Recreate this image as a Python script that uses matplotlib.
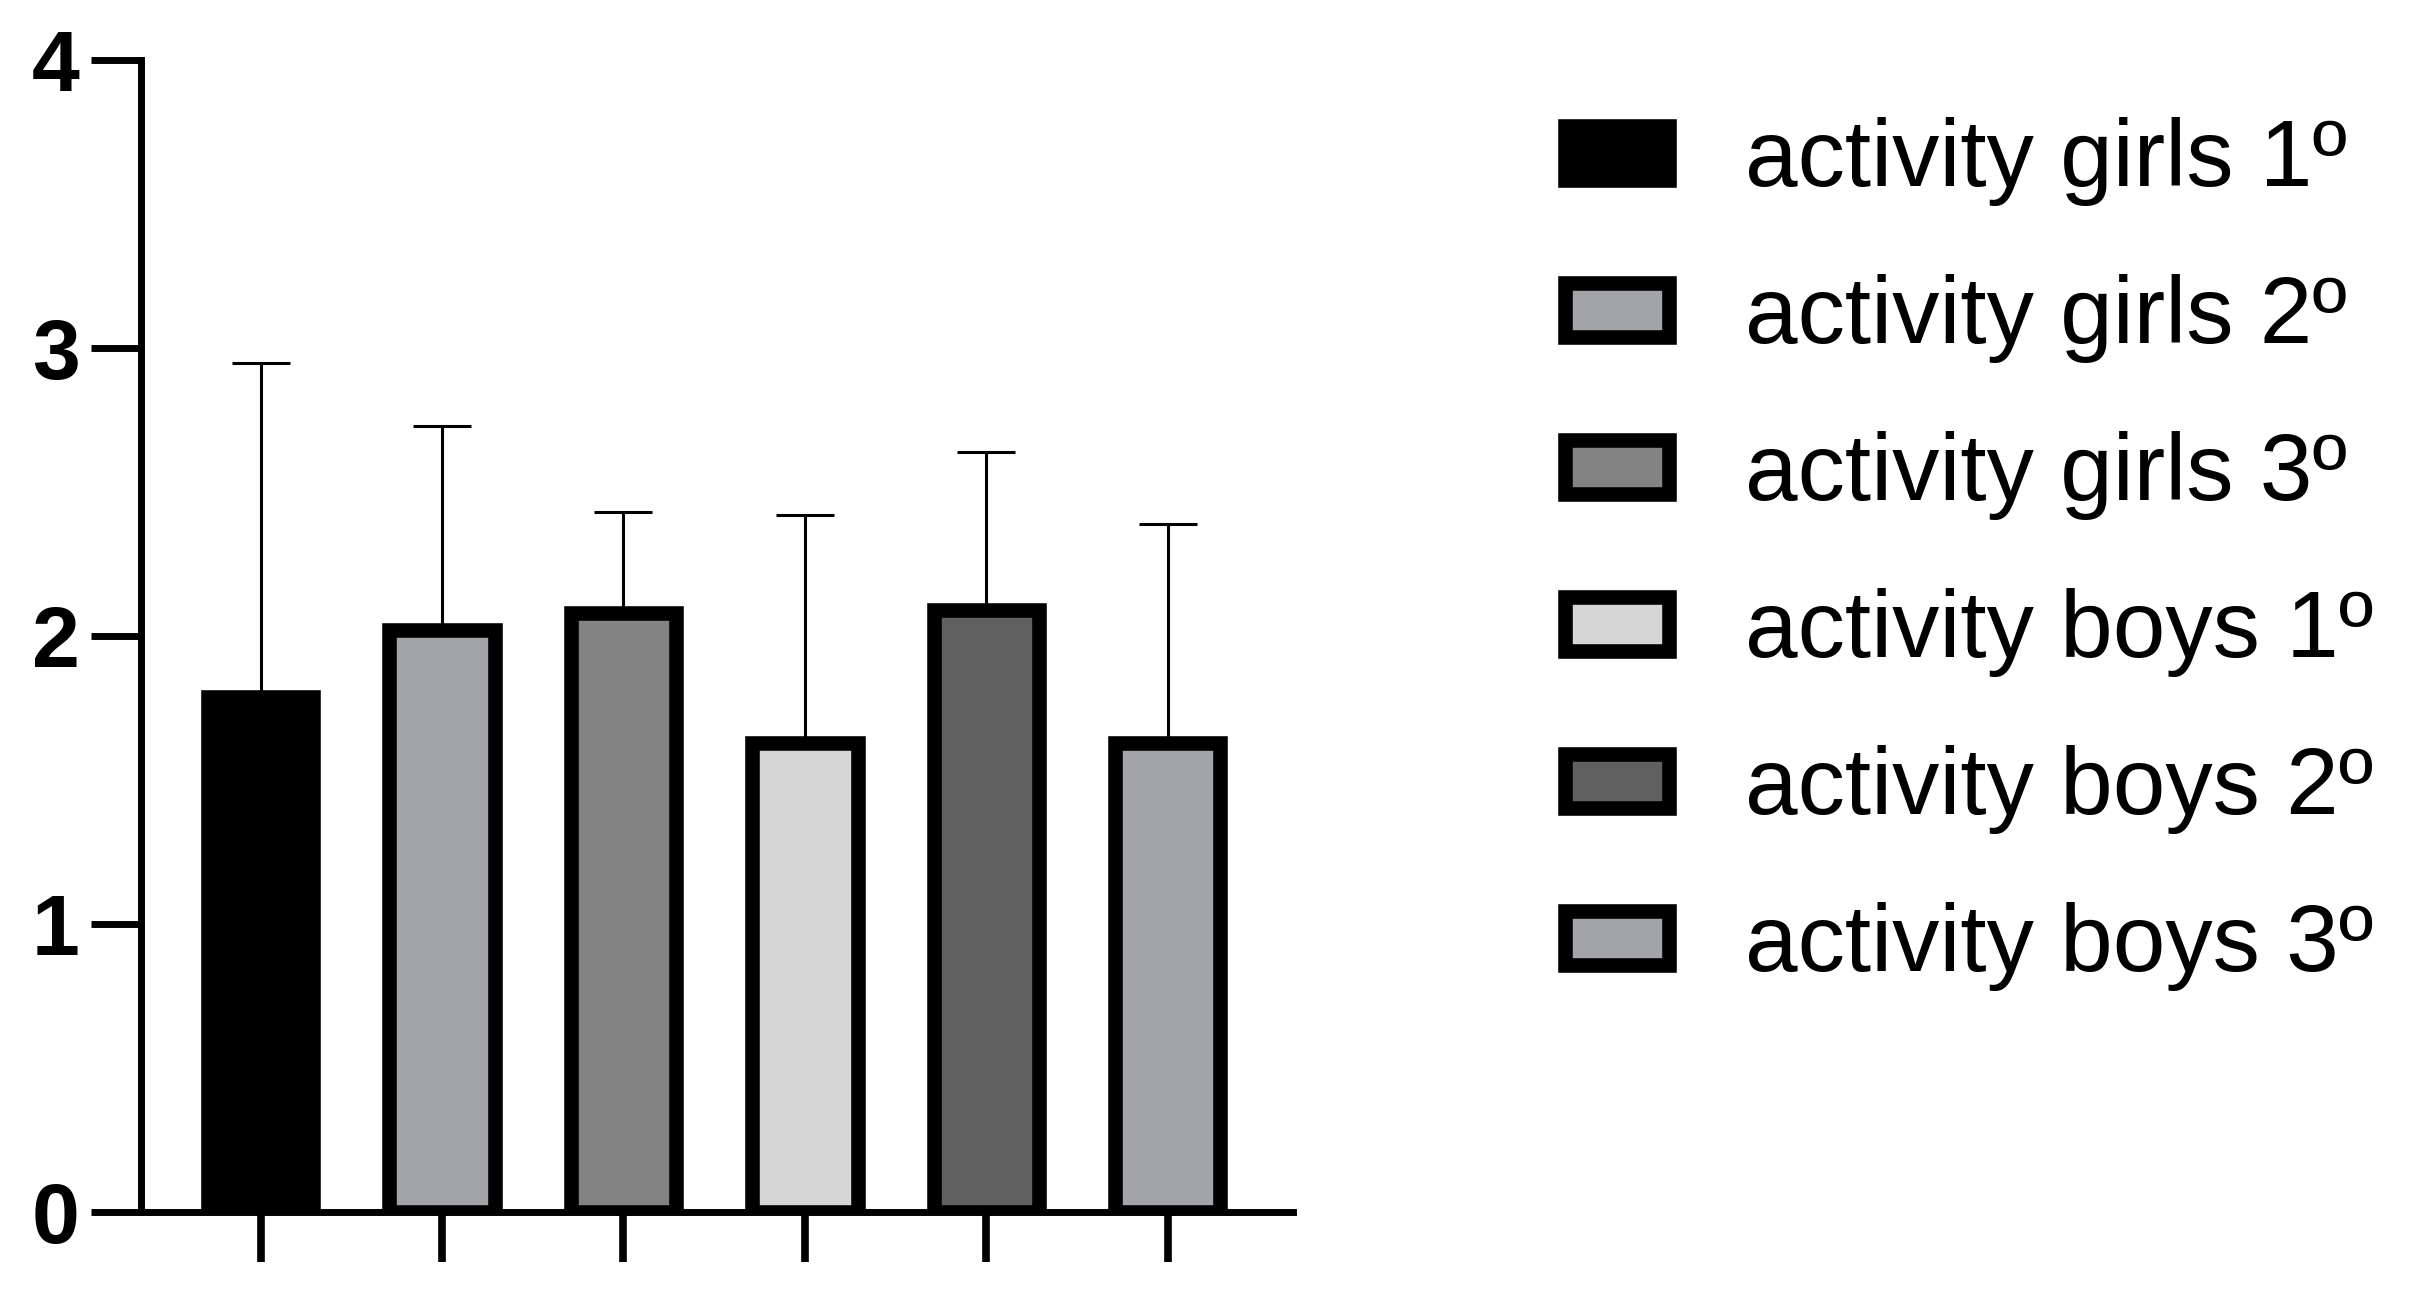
import numpy as np
import matplotlib
matplotlib.use("Agg")
import matplotlib.pyplot as plt

plt.rcParams['font.family'] = ['Liberation Sans', 'DejaVu Sans']

groups = ["activity girls 1º", "activity girls 2º", "activity girls 3º",
          "activity boys 1º", "activity boys 2º", "activity boys 3º"]
means = [1.79, 2.02, 2.08, 1.63, 2.09, 1.63]
upper = [2.95, 2.73, 2.43, 2.42, 2.64, 2.39]   # top of the error bar
colors = ["#000000", "#a3a4a8", "#838383", "#d6d6d6", "#606060", "#a3a4a8"]

err = [u - m for u, m in zip(upper, means)]
x = np.arange(len(groups))

fig = plt.figure(figsize=(24.09, 13.03), dpi=100)
ax = fig.add_axes([0.0585, 0.0698, 0.4782, 0.884])

# only the upper half of the error bar shows; the bar hides the lower cap
ax.errorbar(x, means, yerr=[np.zeros(len(x)), err], fmt='none', ecolor='black',
            elinewidth=2.2, capsize=21, capthick=2.2, zorder=1)
bars = ax.bar(x, means, width=0.58, color=colors, edgecolor='black',
              linewidth=10.5, zorder=2, label=groups)

ax.set_xlim(-0.66, 5.69)
ax.set_ylim(0, 4)
ax.set_yticks([0, 1, 2, 3, 4])
ax.set_xticks(x)
ax.set_xticklabels([])

for side in ['top', 'right']:
    ax.spines[side].set_visible(False)
for side in ['left', 'bottom']:
    ax.spines[side].set_linewidth(5)
    ax.spines[side].set_capstyle('projecting')

ax.tick_params(axis='y', length=36, width=5, pad=8, labelsize=62)
ax.tick_params(axis='x', length=36, width=5.5)
for lab in ax.get_yticklabels():
    lab.set_fontweight('bold')

fig.legend(bars, groups, loc='upper left', bbox_to_anchor=(0.6498, 0.910),
           frameon=False, fontsize=68, handlelength=1.10, handleheight=0.5,
           handletextpad=0.80, labelspacing=0.72, borderpad=0, borderaxespad=0)

fig.savefig("out.png", dpi=100)
